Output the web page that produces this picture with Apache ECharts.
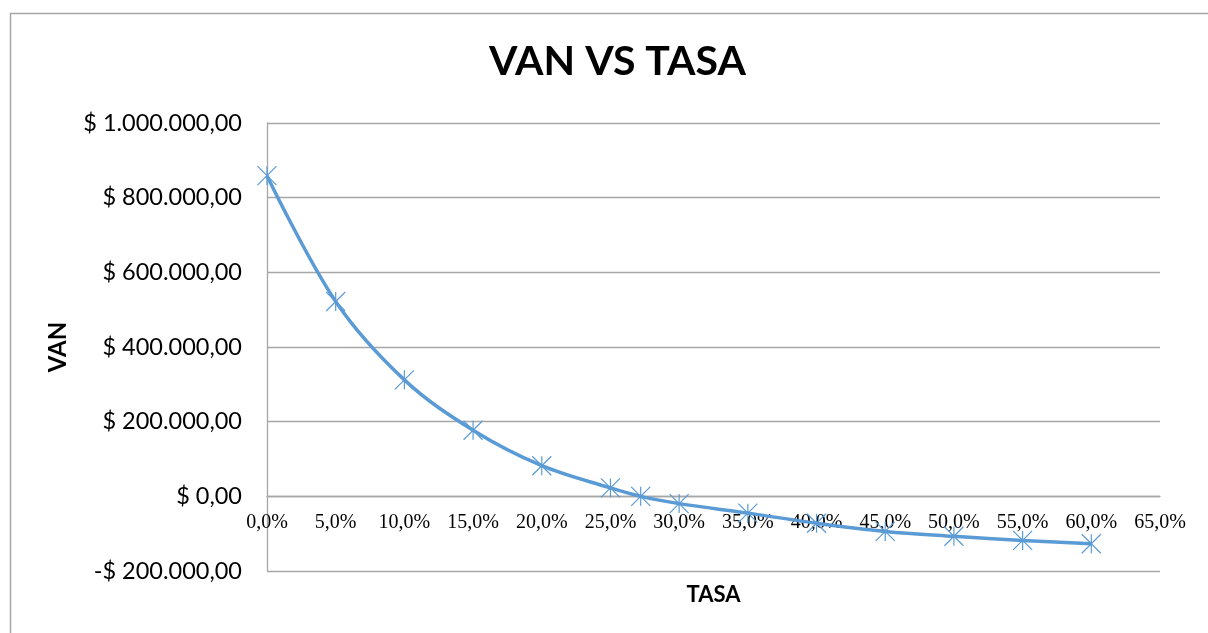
<!DOCTYPE html>
<html>
<head>
<meta charset="utf-8">
<script src="https://cdn.jsdelivr.net/npm/echarts@6/dist/echarts.min.js"></script>
<style>html,body{margin:0;padding:0;background:#fff}#c{width:1208px;height:633px}</style>
</head>
<body>
<div id="c"></div>
<script>
var tasas = [0, 5, 10, 15, 20, 25, 27.2, 30, 35, 40, 45, 50, 55, 60];
var van = [859000, 522000, 312000, 177000, 82000, 22500, 0, -19500, -45000, -72000, -94000, -107000, -118000, -127000];
var chartTitle = 'VAN VS TASA';
var xName = 'TASA';
var yName = 'VAN';

function fmtMoney(v) {
  var neg = v < 0;
  var a = Math.abs(v).toFixed(0).replace(/\B(?=(\d{3})+(?!\d))/g, '.');
  return (neg ? '-$ ' : '$ ') + a + ',00';
}

var gridTop = 123, gridBottom = 62, H = 633;
var yMin = -200000, yMax = 1000000;
var plotH = H - gridTop - gridBottom;
// distance from plot bottom up to the zero line
var zeroOffset = plotH * (0 - yMin) / (yMax - yMin);

var chart = echarts.init(document.getElementById('c'));
var starPath = 'path://M0,0L20,20M20,0L0,20M10,0L10,20';
chart.setOption({
  animation: false,
  graphic: [{
    type: 'rect', left: 8, top: 11,
    shape: {width: 1240, height: 700},
    style: {fill: 'none', stroke: '#A6A6A6', lineWidth: 1.5}
  }],
  title: {
    text: chartTitle, left: 484, top: 36,
    textStyle: {fontFamily: 'Lato', fontWeight: 'bold', fontSize: 41, color: '#000'}
  },
  grid: {left: 267, right: 48, top: gridTop, bottom: gridBottom, outerBoundsMode: 'none', containLabel: false},
  xAxis: {
    type: 'value', min: 0, max: 65, interval: 5,
    offset: -zeroOffset,
    name: xName, nameLocation: 'middle', nameGap: 88,
    nameTextStyle: {fontFamily: 'Lato', fontWeight: 'bold', fontSize: 22, color: '#000'},
    axisLine: {onZero: false, lineStyle: {color: '#A6A6A6', width: 1.3}},
    axisTick: {show: false},
    splitLine: {show: false},
    axisLabel: {
      fontFamily: 'Liberation Serif', fontSize: 20, color: '#000', margin: 16,
      formatter: function (v) { return v.toFixed(1).replace('.', ',') + '%'; }
    }
  },
  yAxis: {
    type: 'value', min: yMin, max: yMax, interval: 200000,
    name: yName, nameLocation: 'middle', nameRotate: 90, nameGap: 197,
    nameTextStyle: {fontFamily: 'Lato', fontWeight: 'bold', fontSize: 24, color: '#000'},
    axisLine: {show: true, onZero: false, lineStyle: {color: '#A6A6A6', width: 1.3}},
    axisTick: {show: false},
    splitLine: {lineStyle: {color: '#A6A6A6', width: 1.3}},
    axisLabel: {
      fontFamily: 'Lato', fontSize: 23.5, color: '#000', margin: 25,
      formatter: fmtMoney
    }
  },
  series: [{
    type: 'line', smooth: 0.35,
    data: tasas.map(function (t, i) { return [t, van[i]]; }),
    lineStyle: {color: '#5B9BD5', width: 3.5},
    symbol: starPath, symbolSize: 19,
    itemStyle: {color: 'none', borderColor: '#5B9BD5', borderWidth: 1.2},
    showAllSymbol: true
  }]
});
</script>
</body>
</html>
